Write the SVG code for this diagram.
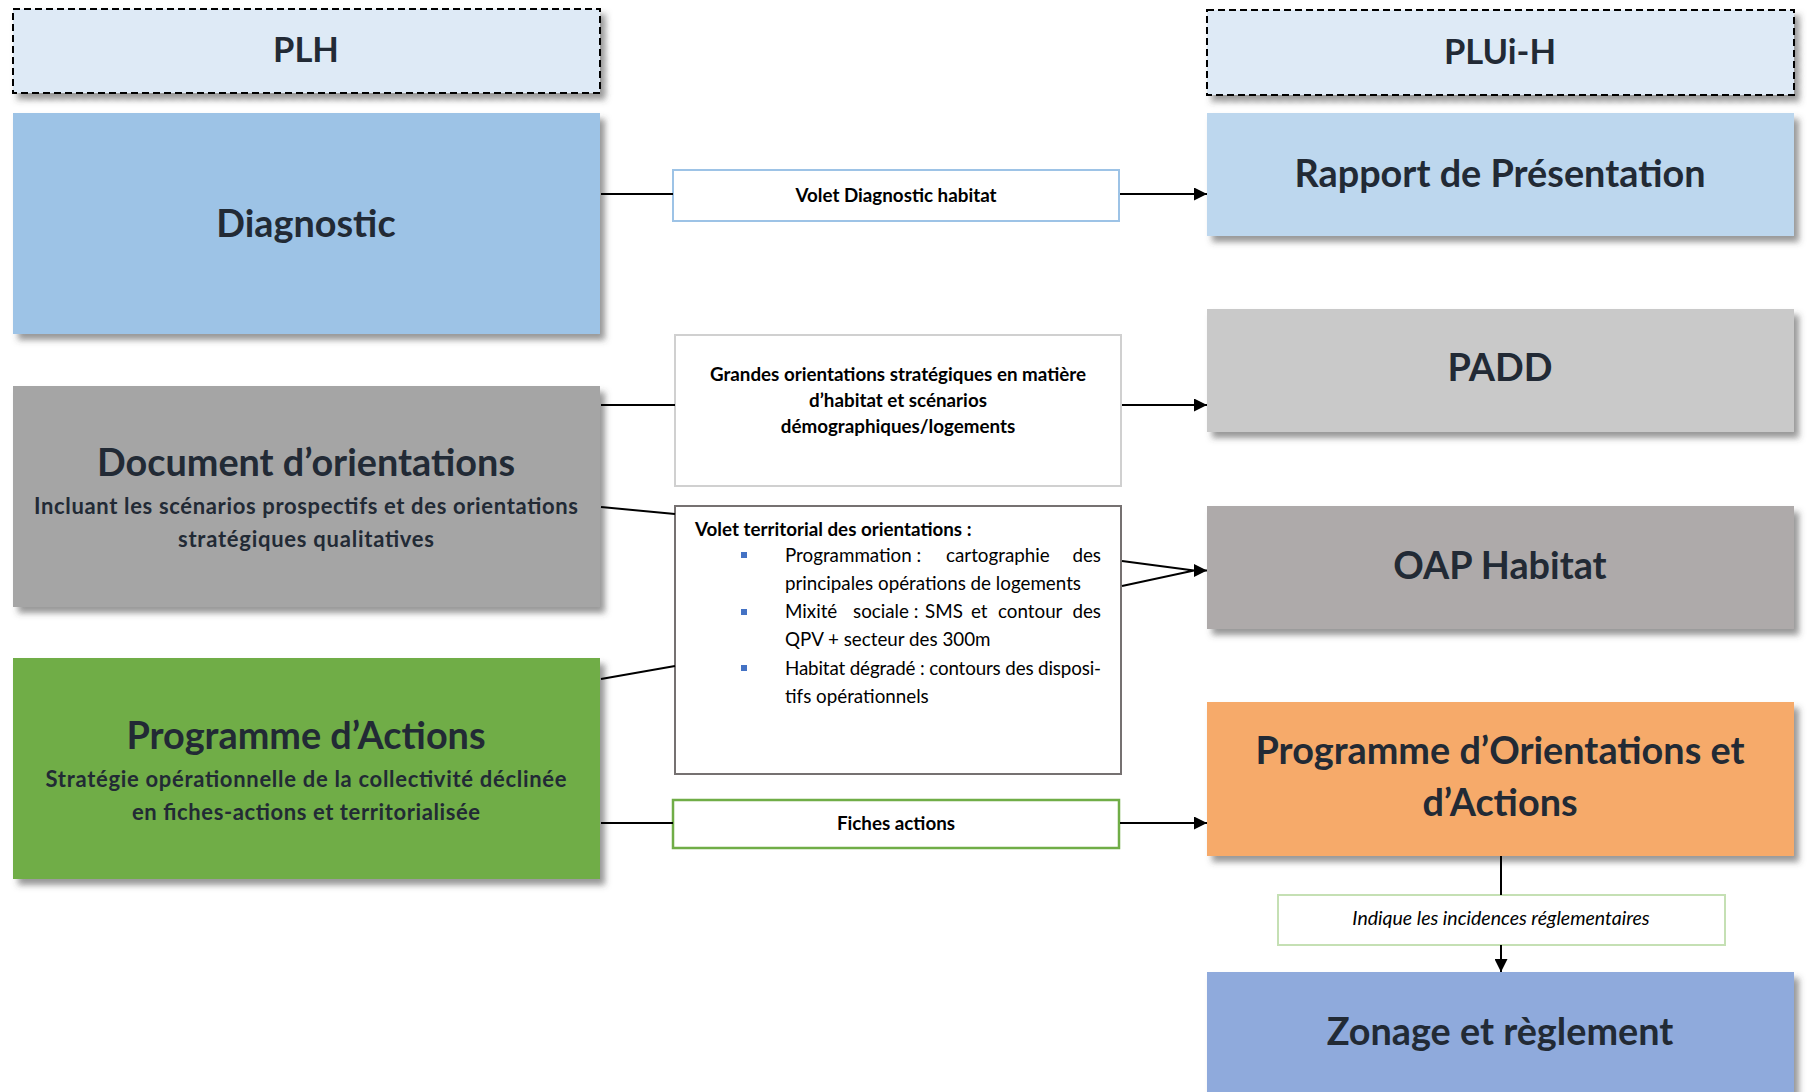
<svg xmlns="http://www.w3.org/2000/svg" width="1807" height="1092" viewBox="0 0 1807 1092">
<style>
.head{font-family:Lato,"Open Sans",sans-serif;font-weight:700;font-size:34.5px;fill:#222A35;text-anchor:middle}
.title{font-family:Lato,"Open Sans",sans-serif;font-weight:700;font-size:37.8px;fill:#222A35;text-anchor:middle}
.sub{font-family:Lato,"Open Sans",sans-serif;font-weight:700;font-size:22px;fill:#222A35;text-anchor:middle}
.lbl{font-family:Lato,"Open Sans",sans-serif;font-weight:700;font-size:18.8px;fill:#000;text-anchor:middle}
.lbll{font-family:Lato,"Open Sans",sans-serif;font-weight:700;font-size:18.8px;fill:#000}
.body{font-family:Lato,"Open Sans",sans-serif;font-weight:400;font-size:18.8px;fill:#000}
.ital{font-family:Lato,"Open Sans",sans-serif;font-style:italic;font-size:19.5px;fill:#000;text-anchor:middle}
.shadow{filter:url(#sh)}
.conn{stroke:#000;stroke-width:2;fill:none}
.arr{marker-end:url(#ah)}
.bul{fill:#4472C4}
</style>
<defs>
<filter id="sh" x="-5%" y="-5%" width="115%" height="125%">
<feDropShadow dx="5" dy="6" stdDeviation="3" flood-color="#444" flood-opacity="0.55"/>
</filter>
<marker id="ah" markerUnits="userSpaceOnUse" markerWidth="13" markerHeight="13" refX="13" refY="6.5" orient="auto">
<path d="M0,0 L13,6.5 L0,13 z" fill="#000"/>
</marker>
</defs>
<rect width="1807" height="1092" fill="#fff"/>

<g id="plh">
<rect class="shadow" x="13" y="9" width="587" height="84" fill="#DEEAF6" stroke="#000" stroke-width="2" stroke-dasharray="7,4"/>
<text class="head" x="306" y="62">PLH</text>
</g>
<g id="pluih">
<rect class="shadow" x="1207" y="10" width="587" height="85" fill="#DEEAF6" stroke="#000" stroke-width="2" stroke-dasharray="7,4"/>
<text class="head" x="1500" y="64">PLUi-H</text>
</g>

<g id="diagnostic">
<rect class="shadow" x="13" y="113" width="587" height="221" fill="#9DC3E6"/>
<text class="title" x="306" y="237">Diagnostic</text>
</g>
<g id="document">
<rect class="shadow" x="13" y="386" width="587" height="221" fill="#A5A5A5"/>
<text class="title" x="306" y="476">Document d’orientations</text>
<text class="sub" x="306" y="514" textLength="544" lengthAdjust="spacing">Incluant les scénarios prospectifs et des orientations</text>
<text class="sub" x="306" y="547" textLength="256" lengthAdjust="spacing">stratégiques qualitatives</text>
</g>
<g id="programme">
<rect class="shadow" x="13" y="658" width="587" height="221" fill="#70AD47"/>
<text class="title" x="306" y="749">Programme d’Actions</text>
<text class="sub" x="306" y="787" textLength="521" lengthAdjust="spacing">Stratégie opérationnelle de la collectivité déclinée</text>
<text class="sub" x="306" y="820" textLength="348" lengthAdjust="spacing">en fiches-actions et territorialisée</text>
</g>

<g id="volet-diag">
<rect x="673" y="170" width="446" height="51" fill="#fff" stroke="#9DC3E6" stroke-width="2"/>
<text class="lbl" x="896" y="202">Volet Diagnostic habitat</text>
</g>
<g id="grandes">
<rect x="675" y="335" width="446" height="151" fill="#fff" stroke="#D0D0D0" stroke-width="2"/>
<text class="lbl" x="898" y="381">Grandes orientations stratégiques en matière</text>
<text class="lbl" x="898" y="407">d’habitat et scénarios</text>
<text class="lbl" x="898" y="433">démographiques/logements</text>
</g>
<g id="volet-terr">
<rect x="675" y="506" width="446" height="268" fill="#fff" stroke="#767171" stroke-width="2"/>
<text class="lbll" x="695" y="536">Volet territorial des orientations :</text>
<rect class="bul" x="741" y="552" width="6" height="6"/>
<rect class="bul" x="741" y="609" width="6" height="6"/>
<rect class="bul" x="741" y="665" width="6" height="6"/>
<text class="body" y="562"><tspan x="785">Programmation :</tspan><tspan x="946">cartographie</tspan><tspan x="1101" text-anchor="end">des</tspan></text>
<text class="body" x="785" y="590">principales opérations de logements</text>
<text class="body" y="618"><tspan x="785">Mixité</tspan><tspan x="853">sociale :</tspan><tspan x="925">SMS</tspan><tspan x="971">et</tspan><tspan x="998">contour</tspan><tspan x="1101" text-anchor="end">des</tspan></text>
<text class="body" x="785" y="646">QPV + secteur des 300m</text>
<text class="body" x="785" y="675" textLength="316" lengthAdjust="spacing">Habitat dégradé : contours des disposi-</text>
<text class="body" x="785" y="703">tifs opérationnels</text>
</g>
<g id="fiches">
<rect x="673" y="800" width="446" height="48" fill="#fff" stroke="#70AD47" stroke-width="2.5"/>
<text class="lbl" x="896" y="830">Fiches actions</text>
</g>

<g id="rapport">
<rect class="shadow" x="1207" y="113" width="587" height="123" fill="#BDD7EE"/>
<text class="title" x="1500" y="187">Rapport de Présentation</text>
</g>
<g id="padd">
<rect class="shadow" x="1207" y="309" width="587" height="123" fill="#C9C9C9"/>
<text class="title" x="1500" y="381">PADD</text>
</g>
<g id="oap">
<rect class="shadow" x="1207" y="506" width="587" height="123" fill="#AEAAAA"/>
<text class="title" x="1500" y="579">OAP Habitat</text>
</g>
<g id="poa">
<rect class="shadow" x="1207" y="702" width="587" height="154" fill="#F6AA6B"/>
<text class="title" x="1500" y="764">Programme d’Orientations et</text>
<text class="title" x="1500" y="816">d’Actions</text>
</g>
<g id="indique">
<rect x="1278" y="895" width="447" height="50" fill="#fff" stroke="#C5E0B4" stroke-width="2"/>
<text class="ital" x="1501" y="925">Indique les incidences réglementaires</text>
</g>
<g id="zonage">
<rect class="shadow" x="1207" y="972" width="587" height="130" fill="#8FAADC"/>
<text class="title" x="1500" y="1045">Zonage et règlement</text>
</g>

<g id="connectors">
<path class="conn" d="M601,194 L673,194"/>
<path class="conn arr" d="M1120,194 L1207,194"/>
<path class="conn" d="M601,405 L675,405"/>
<path class="conn arr" d="M1122,405 L1207,405"/>
<path class="conn" d="M601,507 L675,514"/>
<path class="conn" d="M601,679 L675,666"/>
<path class="conn arr" d="M1122,561 L1194,570.5 M1122,586 L1194,570.5 L1207,570.5"/>
<path class="conn" d="M601,823 L673,823"/>
<path class="conn arr" d="M1120,823 L1207,823"/>
<path class="conn" d="M1501,856 L1501,895"/>
<path class="conn arr" d="M1501,945 L1501,972"/>
</g>
</svg>
